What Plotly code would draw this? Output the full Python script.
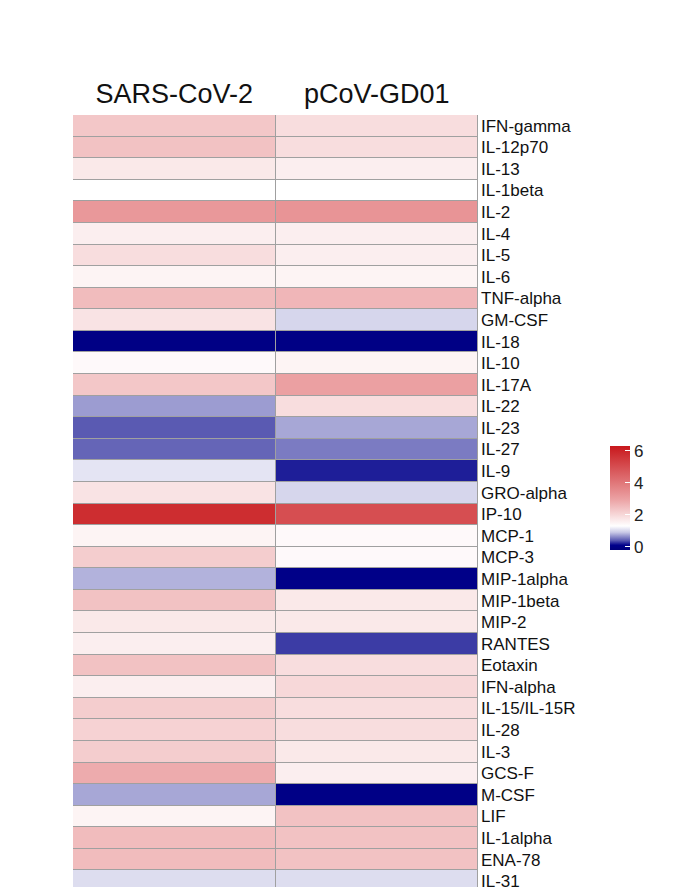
import plotly.graph_objects as go

cytokines = ["IFN-gamma","IL-12p70","IL-13","IL-1beta","IL-2","IL-4","IL-5","IL-6","TNF-alpha","GM-CSF",
             "IL-18","IL-10","IL-17A","IL-22","IL-23","IL-27","IL-9","GRO-alpha","IP-10","MCP-1",
             "MCP-3","MIP-1alpha","MIP-1beta","MIP-2","RANTES","Eotaxin","IFN-alpha","IL-15/IL-15R","IL-28","IL-3",
             "GCS-F","M-CSF","LIF","IL-1alpha","ENA-78","IL-31"]
samples = ["SARS-CoV-2", "pCoV-GD01"]
sars = [2.3,2.4,1.7,1.3,3.2,1.6,1.9,1.5,2.5,1.8,
        0.0,1.4,2.3,0.7,0.4,0.45,1.1,1.8,5.8,1.5,
        2.2,0.8,2.4,1.7,1.6,2.4,1.6,2.2,2.1,2.2,
        2.8,0.75,1.5,2.5,2.5,1.05]
pcov = [1.9,1.9,1.6,1.3,3.3,1.6,1.6,1.5,2.6,1.0,
        0.0,1.5,3.0,1.9,0.75,0.55,0.2,1.0,5.0,1.4,
        1.4,0.05,1.7,1.7,0.3,1.9,2.0,1.9,1.9,1.7,
        1.6,0.02,2.4,2.4,2.4,1.05]

z = [[a, b] for a, b in zip(sars, pcov)]
zmin, zmax = -0.2, 6.3
def p(v): return (v - zmin) / (zmax - zmin)
cs = [[0, "#00007a"], [p(0.1), "#00008b"], [p(0.4), "#5a5ab2"], [p(0.9), "#c8c8e6"],
      [p(1.3), "#ffffff"], [p(3.0), "#eba0a2"], [1, "#c8181c"]]

fig = go.Figure(go.Heatmap(
    z=z, x=samples, y=cytokines, colorscale=cs, zmin=zmin, zmax=zmax,
    xgap=1, ygap=1,
    colorbar=dict(x=1.30, xanchor="left", y=0.507, yanchor="middle", len=0.16, lenmode="fraction",
                  thickness=20, outlinewidth=0, tickvals=[0,2,4,6], ticks="inside", ticklen=5,
                  tickcolor="white", tickfont=dict(size=17, color="#222", family="Liberation Sans")),
))
fig.update_layout(
    width=695, height=887, margin=dict(l=65, r=225, t=107, b=3),
    plot_bgcolor="#a0a0a0", paper_bgcolor="white",
    font=dict(family="Liberation Sans", color="#111"),
)
fig.update_xaxes(side="top", showgrid=False, tickfont=dict(size=27), ticks="", ticklabelstandoff=6, automargin=False)
fig.update_yaxes(side="right", autorange="reversed", showgrid=False, tickfont=dict(size=17), ticks="", ticklabelstandoff=2, automargin=False)
fig.write_html("out.html")
